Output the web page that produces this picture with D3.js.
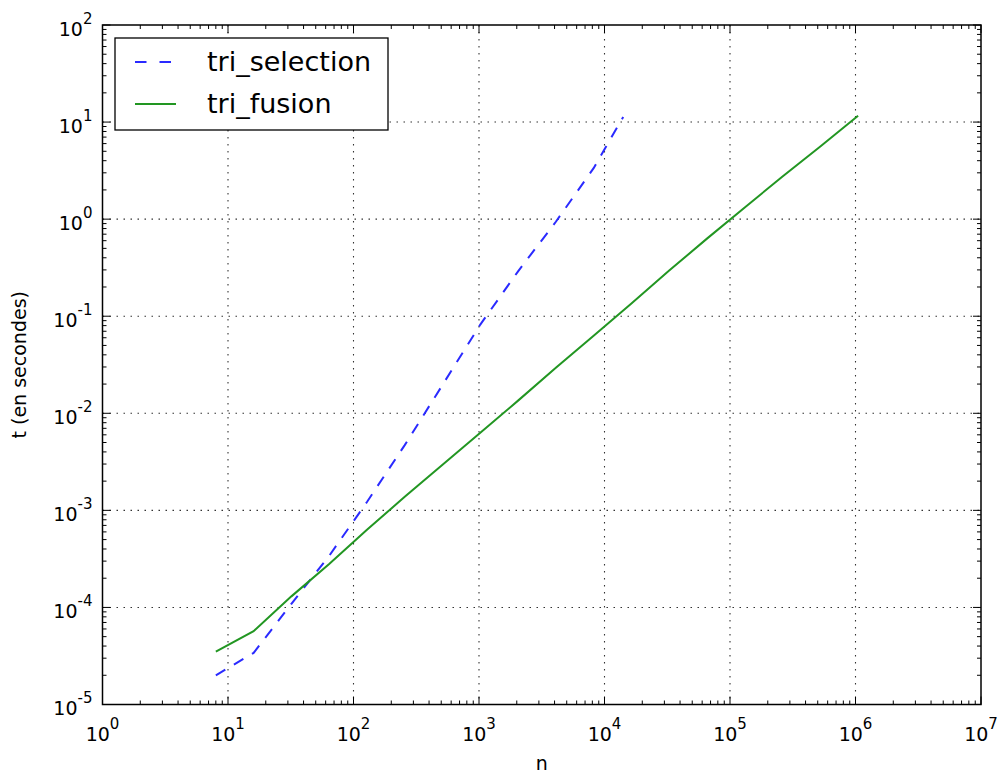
<!DOCTYPE html>
<meta charset="utf-8" />
<style>
  body { margin: 0; background: #fff; }
  text { font-family: "DejaVu Sans", sans-serif; fill: #000; }
</style>
<script src="https://d3js.org/d3.v7.min.js"></script>
<div id="chart"></div>
<script>
  // values
  const selN = [8, 16, 32, 64, 128, 256, 512, 1024, 2048, 4096, 8192, 14100];
  const selT = [2.0e-5, 3.4e-5, 1.09e-4, 3.4e-4, 1.22e-3, 4.7e-3, 1.96e-2, 8.2e-2, 0.29, 0.94, 3.35, 11.3];
  const fusN = [8, 16, 32, 64, 128, 256, 512, 1024, 2048, 4096, 8192, 16384, 32768, 65536, 131072, 262144, 524288, 1048576];
  const fusT = [3.5e-5, 5.7e-5, 1.3e-4, 2.8e-4, 6.3e-4, 1.38e-3, 2.95e-3, 6.3e-3, 1.35e-2, 2.95e-2, 6.3e-2, 0.135, 0.295, 0.63, 1.32, 2.75, 5.6, 11.6];
  const xExp = [0, 1, 2, 3, 4, 5, 6, 7];
  const yExp = [-5, -4, -3, -2, -1, 0, 1, 2];
  const seriesNames = ["tri_selection", "tri_fusion"];

  const W = 1003, H = 773;
  const pLeft = 102.5, pRight = 981, pTop = 25, pBottom = 704.5;

  const svg = d3.select("#chart").append("svg")
    .attr("width", W).attr("height", H);

  const x = d3.scaleLog().domain([1, 1e7]).range([pLeft, pRight]);
  const y = d3.scaleLog().domain([1e-5, 1e2]).range([pBottom, pTop]);

  // grid
  const grid = svg.append("g")
    .attr("stroke", "#333").attr("stroke-width", 1.1)
    .attr("stroke-dasharray", "1.5,5.5");
  grid.selectAll("line.gx").data(xExp.slice(1, -1)).join("line")
    .attr("x1", d => x(10 ** d)).attr("x2", d => x(10 ** d))
    .attr("y1", pTop).attr("y2", pBottom);
  grid.selectAll("line.gy").data(yExp.slice(1, -1)).join("line")
    .attr("y1", d => y(10 ** d)).attr("y2", d => y(10 ** d))
    .attr("x1", pLeft).attr("x2", pRight);

  // minor + major ticks on all four sides, pointing inwards
  const minorX = [], minorY = [];
  xExp.slice(0, -1).forEach(e => { for (let k = 2; k < 10; k++) minorX.push(k * 10 ** e); });
  yExp.slice(0, -1).forEach(e => { for (let k = 2; k < 10; k++) minorY.push(k * 10 ** e); });

  const ticks = svg.append("g").attr("stroke", "#000").attr("stroke-width", 1);
  function xTicks(vals, len) {
    vals.forEach(v => {
      ticks.append("line").attr("x1", x(v)).attr("x2", x(v)).attr("y1", pBottom).attr("y2", pBottom - len);
      ticks.append("line").attr("x1", x(v)).attr("x2", x(v)).attr("y1", pTop).attr("y2", pTop + len);
    });
  }
  function yTicks(vals, len) {
    vals.forEach(v => {
      ticks.append("line").attr("y1", y(v)).attr("y2", y(v)).attr("x1", pLeft).attr("x2", pLeft + len);
      ticks.append("line").attr("y1", y(v)).attr("y2", y(v)).attr("x1", pRight).attr("x2", pRight - len);
    });
  }
  xTicks(xExp.map(e => 10 ** e), 8);
  xTicks(minorX, 4);
  yTicks(yExp.map(e => 10 ** e), 8);
  yTicks(minorY, 4);

  // tick labels with superscripts
  svg.append("g").selectAll("text").data(xExp).join("text")
    .attr("x", d => x(10 ** d)).attr("y", 740.5)
    .attr("text-anchor", "middle")
    .each(function (d) {
      const t = d3.select(this);
      t.append("tspan").attr("font-size", 19).text("10");
      t.append("tspan").attr("font-size", 15).attr("dy", -12).text(d);
    });
  svg.append("g").selectAll("text").data(yExp).join("text")
    .attr("x", 92.5).attr("y", d => y(10 ** d) + 10.5)
    .attr("text-anchor", "end")
    .each(function (d) {
      const t = d3.select(this);
      t.append("tspan").attr("font-size", 19).text("10");
      t.append("tspan").attr("font-size", 15).attr("dy", -12).text(d < 0 ? "-" + (-d) : d);
    });

  // data lines
  const line = d3.line().x(d => x(d[0])).y(d => y(d[1]));
  svg.append("path")
    .datum(selN.map((n, i) => [n, selT[i]]))
    .attr("d", line).attr("fill", "none")
    .attr("stroke", "#2a2aff").attr("stroke-width", 2)
    .attr("stroke-dasharray", "11,10");
  svg.append("path")
    .datum(fusN.map((n, i) => [n, fusT[i]]))
    .attr("d", line).attr("fill", "none")
    .attr("stroke", "#229622").attr("stroke-width", 2);

  // frame
  svg.append("rect")
    .attr("x", pLeft).attr("y", pTop)
    .attr("width", pRight - pLeft).attr("height", pBottom - pTop)
    .attr("fill", "none").attr("stroke", "#000").attr("stroke-width", 1.5);

  // axis labels
  svg.append("text").attr("x", (pLeft + pRight) / 2).attr("y", 770)
    .attr("text-anchor", "middle").attr("font-size", 19).text("n");
  svg.append("text")
    .attr("transform", `translate(26, ${(pTop + pBottom) / 2}) rotate(-90)`)
    .attr("text-anchor", "middle").attr("font-size", 19).text("t (en secondes)");

  // legend
  const lg = svg.append("g");
  lg.append("rect").attr("x", 115).attr("y", 38).attr("width", 273).attr("height", 92)
    .attr("fill", "#fff").attr("stroke", "#000").attr("stroke-width", 1.3);
  lg.append("line").attr("x1", 135).attr("x2", 173).attr("y1", 62).attr("y2", 62)
    .attr("stroke", "#2a2aff").attr("stroke-width", 2).attr("stroke-dasharray", "11.5,13");
  lg.append("line").attr("x1", 135).attr("x2", 176).attr("y1", 104).attr("y2", 104)
    .attr("stroke", "#229622").attr("stroke-width", 2);
  lg.selectAll("text").data(seriesNames).join("text")
    .attr("x", 207).attr("y", (d, i) => 71 + i * 42)
    .attr("font-size", 27).text(d => d);
</script>
